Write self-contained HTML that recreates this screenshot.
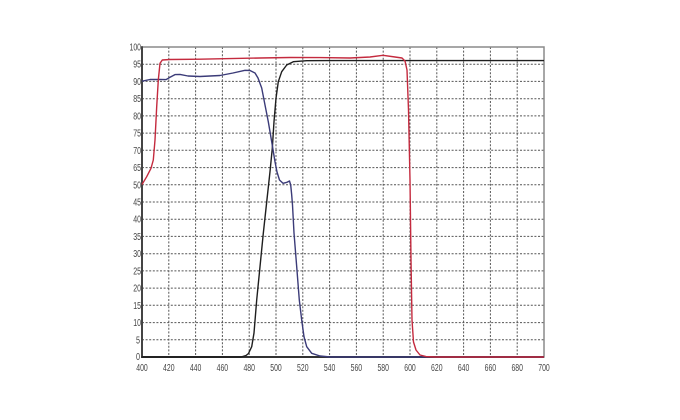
<!DOCTYPE html>
<html>
<head>
<meta charset="utf-8">
<style>
html,body{margin:0;padding:0;background:#fff;}
svg{display:block;}
text{font-family:"Liberation Sans",Arial,sans-serif;font-size:10px;fill:#444;}
</style>
</head>
<body>
<svg width="680" height="420" viewBox="0 0 680 420" xmlns="http://www.w3.org/2000/svg">
<rect width="680" height="420" fill="#fff"/>
<!-- grid -->
<g stroke="#555" stroke-width="1" stroke-dasharray="2,1.6" fill="none">
<line x1="142" x2="544" y1="64.2" y2="64.2"/>
<line x1="142" x2="544" y1="81.4" y2="81.4"/>
<line x1="142" x2="544" y1="98.7" y2="98.7"/>
<line x1="142" x2="544" y1="115.9" y2="115.9"/>
<line x1="142" x2="544" y1="133.1" y2="133.1"/>
<line x1="142" x2="544" y1="150.3" y2="150.3"/>
<line x1="142" x2="544" y1="167.6" y2="167.6"/>
<line x1="142" x2="544" y1="184.8" y2="184.8"/>
<line x1="142" x2="544" y1="202" y2="202"/>
<line x1="142" x2="544" y1="219.2" y2="219.2"/>
<line x1="142" x2="544" y1="236.4" y2="236.4"/>
<line x1="142" x2="544" y1="253.7" y2="253.7"/>
<line x1="142" x2="544" y1="270.9" y2="270.9"/>
<line x1="142" x2="544" y1="288.1" y2="288.1"/>
<line x1="142" x2="544" y1="305.3" y2="305.3"/>
<line x1="142" x2="544" y1="322.6" y2="322.6"/>
<line x1="142" x2="544" y1="339.8" y2="339.8"/>
<line y1="47" y2="357" x1="168.8" x2="168.8"/>
<line y1="47" y2="357" x1="195.6" x2="195.6"/>
<line y1="47" y2="357" x1="222.4" x2="222.4"/>
<line y1="47" y2="357" x1="249.2" x2="249.2"/>
<line y1="47" y2="357" x1="276" x2="276"/>
<line y1="47" y2="357" x1="302.8" x2="302.8"/>
<line y1="47" y2="357" x1="329.6" x2="329.6"/>
<line y1="47" y2="357" x1="356.4" x2="356.4"/>
<line y1="47" y2="357" x1="383.2" x2="383.2"/>
<line y1="47" y2="357" x1="410" x2="410"/>
<line y1="47" y2="357" x1="436.8" x2="436.8"/>
<line y1="47" y2="357" x1="463.6" x2="463.6"/>
<line y1="47" y2="357" x1="490.4" x2="490.4"/>
<line y1="47" y2="357" x1="517.2" x2="517.2"/>
</g>
<!-- border -->
<rect x="142" y="47" width="402" height="310" fill="none" stroke="#8a8a8a" stroke-width="1.5"/>
<line x1="142" y1="46.3" x2="142" y2="357.8" stroke="#444" stroke-width="2"/>
<line x1="141" y1="357" x2="544" y2="357" stroke="#333" stroke-width="2"/>

<!-- black curve -->
<polyline fill="none" stroke="#1e1e1e" stroke-width="1.4" stroke-linejoin="round"
points="142,357 241,357 246,355.5 248.5,353.5 251.7,346.7 254,333 256.7,300 260,266.7 263.3,233.3 266.7,202 270,171.7 272.3,148.3 274,121.7 276,98.3 278.3,81.7 281.7,71.7 286.7,65 293.3,61.7 306.7,60.7 330,60.6 544,60.6"/>

<!-- blue curve -->
<polyline fill="none" stroke="#3b3b78" stroke-width="1.4" stroke-linejoin="round"
points="142,81.2 150,79.5 160,79.5 166,79.6 170,77.3 175,74.6 180,74.4 188,76 200,76.5 220,75.5 233,73 245,70.3 250,70.5 255,73 258,78 261.7,88 265,105 268.3,121.7 271.7,141.7 275,161.7 277,172 279.5,180 283,183.3 287,182.3 289.5,181 290.7,185 291.7,195 292.5,205 294,233 296.7,266.7 299.3,300 301.7,320 304,336.7 306.7,346.7 311.7,353.3 320,356 330,357 544,357"/>

<!-- red curve -->
<polyline fill="none" stroke="#c42a3e" stroke-width="1.4" stroke-linejoin="round"
points="142,184.5 146.7,176.7 151,168.3 153.3,160 155,140 156.7,106.7 158.3,80 160,63.3 162.3,60 170,59.5 200,59.2 230,58.6 260,58 290,57.5 320,57.6 350,58 370,57 383,55.3 395,57 402,58 405,61 407,70 408.5,110 410,180 411,260 412,320 413.5,342 416,350 420,355 426,356.6 435,357 544,357"/>

<!-- y labels -->
<g text-anchor="end">
<text x="141" y="50.5" textLength="11.5" lengthAdjust="spacingAndGlyphs">100</text>
<text x="141" y="67.7" textLength="7.8" lengthAdjust="spacingAndGlyphs">95</text>
<text x="141" y="84.9" textLength="7.8" lengthAdjust="spacingAndGlyphs">90</text>
<text x="141" y="102.2" textLength="7.8" lengthAdjust="spacingAndGlyphs">85</text>
<text x="141" y="119.4" textLength="7.8" lengthAdjust="spacingAndGlyphs">80</text>
<text x="141" y="136.6" textLength="7.8" lengthAdjust="spacingAndGlyphs">75</text>
<text x="141" y="153.8" textLength="7.8" lengthAdjust="spacingAndGlyphs">70</text>
<text x="141" y="171.1" textLength="7.8" lengthAdjust="spacingAndGlyphs">65</text>
<text x="141" y="188.3" textLength="7.8" lengthAdjust="spacingAndGlyphs">50</text>
<text x="141" y="205.5" textLength="7.8" lengthAdjust="spacingAndGlyphs">45</text>
<text x="141" y="222.7" textLength="7.8" lengthAdjust="spacingAndGlyphs">40</text>
<text x="141" y="239.9" textLength="7.8" lengthAdjust="spacingAndGlyphs">35</text>
<text x="141" y="257.2" textLength="7.8" lengthAdjust="spacingAndGlyphs">30</text>
<text x="141" y="274.4" textLength="7.8" lengthAdjust="spacingAndGlyphs">25</text>
<text x="141" y="291.6" textLength="7.8" lengthAdjust="spacingAndGlyphs">20</text>
<text x="141" y="308.8" textLength="7.8" lengthAdjust="spacingAndGlyphs">15</text>
<text x="141" y="326.1" textLength="7.8" lengthAdjust="spacingAndGlyphs">10</text>
<text x="140" y="343.3" textLength="4" lengthAdjust="spacingAndGlyphs">5</text>
<text x="140" y="360" textLength="4" lengthAdjust="spacingAndGlyphs">0</text>
</g>
<!-- x labels -->
<g text-anchor="middle">
<text x="142" y="371" textLength="11.5" lengthAdjust="spacingAndGlyphs">400</text>
<text x="168.8" y="371" textLength="11.5" lengthAdjust="spacingAndGlyphs">420</text>
<text x="195.6" y="371" textLength="11.5" lengthAdjust="spacingAndGlyphs">440</text>
<text x="222.4" y="371" textLength="11.5" lengthAdjust="spacingAndGlyphs">460</text>
<text x="249.2" y="371" textLength="11.5" lengthAdjust="spacingAndGlyphs">480</text>
<text x="276" y="371" textLength="11.5" lengthAdjust="spacingAndGlyphs">500</text>
<text x="302.8" y="371" textLength="11.5" lengthAdjust="spacingAndGlyphs">520</text>
<text x="329.6" y="371" textLength="11.5" lengthAdjust="spacingAndGlyphs">540</text>
<text x="356.4" y="371" textLength="11.5" lengthAdjust="spacingAndGlyphs">560</text>
<text x="383.2" y="371" textLength="11.5" lengthAdjust="spacingAndGlyphs">580</text>
<text x="410" y="371" textLength="11.5" lengthAdjust="spacingAndGlyphs">600</text>
<text x="436.8" y="371" textLength="11.5" lengthAdjust="spacingAndGlyphs">620</text>
<text x="463.6" y="371" textLength="11.5" lengthAdjust="spacingAndGlyphs">640</text>
<text x="490.4" y="371" textLength="11.5" lengthAdjust="spacingAndGlyphs">660</text>
<text x="517.2" y="371" textLength="11.5" lengthAdjust="spacingAndGlyphs">680</text>
<text x="544" y="371" textLength="11.5" lengthAdjust="spacingAndGlyphs">700</text>
</g>
</svg>
</body>
</html>
